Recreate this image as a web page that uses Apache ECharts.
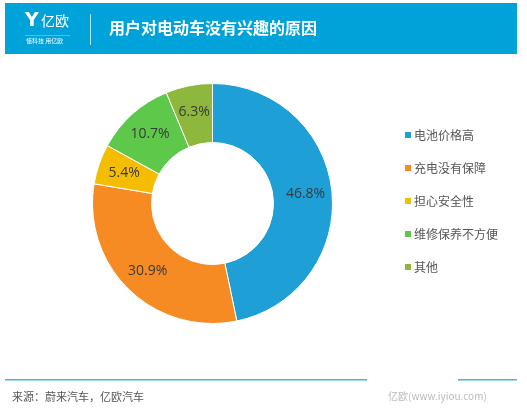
<!DOCTYPE html>
<html><head><meta charset="utf-8">
<script src="https://cdn.jsdelivr.net/npm/echarts@6/dist/echarts.min.js"></script>
<style>html,body{margin:0;padding:0;background:#fff}#c{width:527px;height:417px}</style>
</head><body><div id="c"></div>
<script>
const categories = ['电池价格高','充电没有保障','担心安全性','维修保养不方便','其他'];
const values = [46.8, 30.9, 5.4, 10.7, 6.3];
const colors = ['#1E9FD5','#F68B24','#F5BD02','#5EC84B','#8DB83C'];
const title = '用户对电动车没有兴趣的原因';
const source = '来源：蔚来汽车，亿欧汽车';

const chart = echarts.init(document.getElementById('c'), null, {renderer:'canvas'});
chart.setOption({
  animation:false,
  color: colors,
  legend:{
    orient:'vertical', left:398, top:124, itemWidth:8, itemHeight:8, itemGap:21,
    icon:'rect',
    textStyle:{fontSize:12, color:'#555', fontFamily:'Noto Sans CJK SC', padding:[0,0,0,-3]},
    data: categories
  },
  graphic:[
    {type:'rect', shape:{x:5,y:3,width:512,height:51}, style:{fill:'#00A3D9'}},
    {type:'text', left:25, top:12, style:{text:'Y', fill:'#fff', font:'bold 19px DejaVu Sans'}},
    {type:'text', left:41, top:14, style:{text:'亿欧', fill:'#fff', font:'14px "Noto Sans CJK SC"'}},
    {type:'rect', shape:{x:25,y:35,width:45,height:0.6}, style:{fill:'rgba(255,255,255,0.6)'}},
    {type:'text', left:26, top:38, style:{text:'懂科技 用亿欧', fill:'#fff', font:'6px "Noto Sans CJK SC"'}},
    {type:'rect', shape:{x:90,y:14,width:1,height:31}, style:{fill:'rgba(255,255,255,0.7)'}},
    {type:'text', left:109, top:20, style:{text:title, fill:'#fff', font:'bold 16px "Noto Sans CJK SC"'}},
    {type:'rect', shape:{x:5,y:379,width:362,height:1.5}, style:{fill:'#3DB5E6'}},
    {type:'rect', shape:{x:458,y:379,width:59,height:1.5}, style:{fill:'#3DB5E6'}},
    {type:'text', left:12, top:391, style:{text:source, fill:'#555', font:'11px "Noto Sans CJK SC"'}},
    {type:'text', left:388, top:391, style:{text:'亿欧(www.iyiou.com)', fill:'#bbb', font:'10px "Noto Sans CJK SC"'}}
  ],
  series:[{
    type:'pie',
    center:[212.5,203.5],
    radius:[61,120],
    startAngle:90,
    clockwise:true,
    avoidLabelOverlap:false,
    itemStyle:{borderColor:'#fff', borderWidth:1},
    label:{show:true, position:'inside', formatter:p=>p.value.toFixed(1)+'%', color:'#3a3a3a', fontSize:14, fontFamily:'Open Sans'},
    labelLine:{show:false},
    emphasis:{disabled:true},
    data: categories.map((n,i)=>({name:n, value:values[i]}))
  }]
});
</script></body></html>
